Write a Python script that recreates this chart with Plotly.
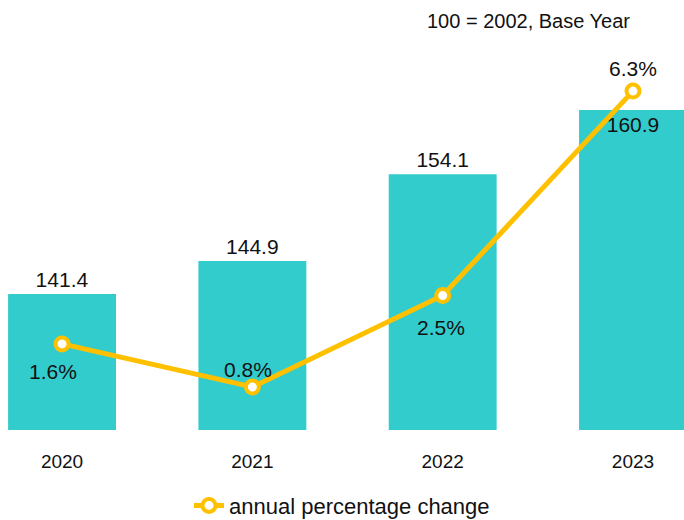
import plotly.graph_objects as go

years = ["2020", "2021", "2022", "2023"]
index_values = [141.4, 144.9, 154.1, 160.9]
pct_change = [1.6, 0.8, 2.5, 6.3]
pct_labels = ["1.6%", "0.8%", "2.5%", "6.3%"]
note_text = "100 = 2002, Base Year"
legend_name = "annual percentage change"

FONT = "Liberation Sans, Arial, sans-serif"
TEAL = "#33CCCC"
GOLD = "#FFC000"
INK = "#111111"

fig = go.Figure()
fig.add_trace(go.Bar(
    x=years, y=index_values, width=0.567,
    marker=dict(color=TEAL, line=dict(width=0)),
    text=[f"{v:.1f}" for v in index_values],
    textposition=["outside", "outside", "outside", "inside"],
    insidetextanchor="end",
    textfont=dict(family=FONT, size=21, color=INK),
    cliponaxis=False,
    showlegend=False,
))
fig.add_trace(go.Scatter(
    x=years, y=pct_change, yaxis="y2", mode="lines+markers",
    name=legend_name,
    line=dict(color=GOLD, width=5),
    marker=dict(size=13, color="white", line=dict(color=GOLD, width=4)),
    cliponaxis=False,
))

shifts = [(-9, -28), (-4, 17), (-2, -32), (0, 23)]
annos = []
for i, (v, lab, (dx, dy)) in enumerate(zip(pct_change, pct_labels, shifts)):
    annos.append(dict(x=i, y=v, xref="x", yref="y2", text=lab, showarrow=False,
                      xshift=dx, yshift=dy,
                      font=dict(family=FONT, size=21, color=INK)))
annos.append(dict(x=528 / 684, y=(520 - 21 - 90) / 390, xref="paper", yref="paper",
                  text=note_text, showarrow=False, xanchor="center", yanchor="middle",
                  font=dict(family=FONT, size=20, color=INK)))

hidden = dict(showgrid=False, zeroline=False, showline=False, showticklabels=False, ticks="")

fig.update_layout(
    width=684, height=520,
    margin=dict(l=0, r=0, t=40, b=90, autoexpand=False),
    paper_bgcolor="white", plot_bgcolor="white",
    font=dict(family=FONT, size=18, color=INK),
    annotations=annos,
    xaxis=dict(type="category", range=[-0.326, 3.268], showgrid=False, zeroline=False,
               showline=False, ticks="outside", ticklen=14, tickcolor="rgba(0,0,0,0)",
               tickfont=dict(family=FONT, size=19, color=INK)),
    yaxis=dict(range=[127, 168.33], **hidden),
    yaxis2=dict(range=[0, 7.25], overlaying="y", side="right", **hidden),
    showlegend=True,
    legend=dict(orientation="h", x=0.5, xanchor="center", y=-0.14, yanchor="top",
                font=dict(family=FONT, size=22, color=INK)),
)

fig.write_html("out.html", config={"displayModeBar": False},
               post_script="document.body.style.margin='0';document.body.style.overflow='hidden';")
